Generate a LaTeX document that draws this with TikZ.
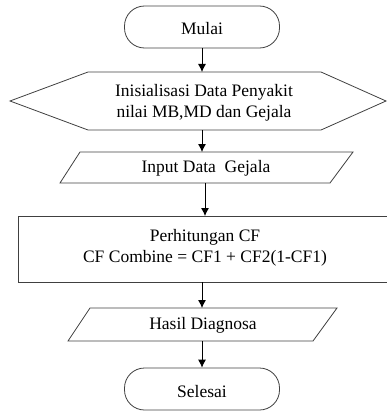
\documentclass[tikz,border=0pt]{standalone}
\usepackage{fontspec}
\setmainfont{Liberation Serif}
\usetikzlibrary{arrows.meta}
\tikzset{
  shp/.style={draw=black!75, line width=0.8pt},
  txtfont/.style={font=\fontsize{17.5}{21.5}\selectfont},
  term/.style={shp, txtfont, rounded corners=20pt, minimum width=155pt, minimum height=42pt, inner sep=0pt, text height=16pt, text depth=0pt},
  lbl/.style={txtfont, align=center, text=black, inner sep=0pt},
  arr/.style={draw=black, line width=0.8pt, -{Latex[length=8pt,width=8pt]}},
}
\begin{document}
\begin{tikzpicture}[x=1pt,y=-1pt]
\useasboundingbox (0,0) rectangle (387,412);
\clip (0,0) rectangle (387,412);
% start
\node[term] (start) at (202,27) {Mulai};
% hexagon
\coordinate (hW) at (10,101);
\coordinate (hNW) at (88,72);
\coordinate (hNE) at (321,72);
\coordinate (hE) at (386,101);
\coordinate (hSE) at (321,130);
\coordinate (hSW) at (88,130);
\draw[shp] (hW) -- (hNW) -- (hNE) -- (hE) -- (hSE) -- (hSW) -- cycle;
\node[lbl] (init) at (204,103) {Inisialisasi Data Penyakit\\nilai MB,MD dan Gejala};
% input parallelogram
\coordinate (aNW) at (80,152);
\coordinate (aNE) at (353,152);
\coordinate (aSE) at (330,183);
\coordinate (aSW) at (60,183);
\draw[shp] (aNW) -- (aNE) -- (aSE) -- (aSW) -- cycle;
\node[lbl] (input) at (206,168) {Input Data\ \ Gejala};
% process rectangle
\coordinate (rNW) at (18,216);
\coordinate (rSE) at (420,282);
\draw[shp] (rNW) rectangle (rSE);
\node[lbl] (cf) at (205,248) {Perhitungan CF\\CF Combine = CF1 + CF2(1-CF1)};
% output parallelogram
\coordinate (bNW) at (90,308);
\coordinate (bNE) at (337,308);
\coordinate (bSE) at (313,341);
\coordinate (bSW) at (68,341);
\draw[shp] (bNW) -- (bNE) -- (bSE) -- (bSW) -- cycle;
\node[lbl] (hasil) at (203,325) {Hasil Diagnosa};
% end
\node[term] (end) at (202,389) {Selesai};
% connectors
\coordinate (x1) at (202,0);
\coordinate (x2) at (205,0);
\draw[arr] (start.south) -- (start.south |- hNW);
\draw[arr] (x1 |- hSW) -- (x1 |- aNW);
\draw[arr] (x2 |- aSW) -- (x2 |- rNW);
\draw[arr] (x1 |- rSE) -- (x1 |- bNW);
\draw[arr] (end.north |- bSW) -- (end.north);
\end{tikzpicture}
\end{document}
